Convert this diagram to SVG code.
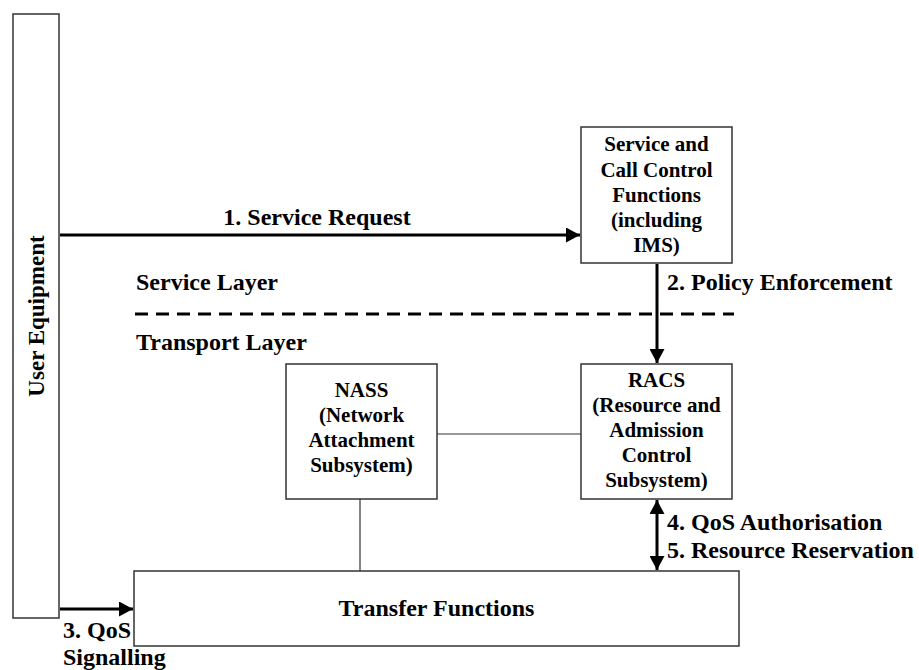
<svg xmlns="http://www.w3.org/2000/svg" width="919" height="670" viewBox="0 0 919 670">
<style>
.box{fill:#fff;stroke:#333;stroke-width:1.5}
text{font-family:'Liberation Serif','Times New Roman','DejaVu Serif',serif;font-weight:bold;fill:#000}
.bt{font-size:21px;text-anchor:middle}
.lt{font-size:24px}
.thick{stroke:#000;stroke-width:3;fill:none}
.thin{stroke:#333;stroke-width:1.2;fill:none}
</style>
<defs>
<marker id="ah" viewBox="0 0 14 15" refX="14" refY="7.5" markerWidth="14" markerHeight="15" markerUnits="userSpaceOnUse" orient="auto-start-reverse">
<path d="M0,0 L14,7.5 L0,15 Z" fill="#000"/>
</marker>
</defs>
<rect width="919" height="670" fill="#fff"/>
<g id="connectors">
<line class="thick" x1="60" y1="235" x2="580" y2="235" marker-end="url(#ah)"/>
<line class="thick" x1="657" y1="264" x2="657" y2="363" marker-end="url(#ah)"/>
<line class="thick" x1="657" y1="500" x2="657" y2="570" marker-start="url(#ah)" marker-end="url(#ah)"/>
<line class="thick" x1="60" y1="609" x2="133" y2="609" marker-end="url(#ah)"/>
<line class="thin" x1="437" y1="434" x2="581" y2="434"/>
<line class="thin" x1="360" y1="499" x2="360" y2="571"/>
<line stroke="#000" stroke-width="3" stroke-dasharray="13 8" x1="135" y1="314" x2="734" y2="314"/>
</g>
<g id="labels" font-family="Liberation Serif">
<text class="lt" x="317" y="225" text-anchor="middle">1. Service Request</text>
<text class="lt" x="667" y="290">2. Policy Enforcement</text>
<text class="lt" x="136" y="290">Service Layer</text>
<text class="lt" x="136" y="350">Transport Layer</text>
<text class="lt" x="667" y="530">4. QoS Authorisation</text>
<text class="lt" x="667" y="558">5. Resource Reservation</text>
<text class="lt" x="63" y="638">3. QoS</text>
<text class="lt" x="63" y="665">Signalling</text>
</g>
<g id="ue">
<rect class="box" x="13" y="14" width="46" height="604"/>
<text font-size="23" text-anchor="middle" transform="translate(44,316) rotate(-90)">User Equipment</text>
</g>
<g id="sccf">
<rect class="box" x="581" y="127" width="151" height="136"/>
<text class="bt" x="656.5" y="151">Service and</text>
<text class="bt" x="656.5" y="176.5">Call Control</text>
<text class="bt" x="656.5" y="202">Functions</text>
<text class="bt" x="656.5" y="227">(including</text>
<text class="bt" x="656.5" y="252">IMS)</text>
</g>
<g id="nass">
<rect class="box" x="286" y="364" width="151" height="135"/>
<text class="bt" x="361.5" y="397">NASS</text>
<text class="bt" x="361.5" y="422">(Network</text>
<text class="bt" x="361.5" y="447">Attachment</text>
<text class="bt" x="361.5" y="472">Subsystem)</text>
</g>
<g id="racs">
<rect class="box" x="581" y="364" width="151" height="135"/>
<text class="bt" x="656.5" y="387">RACS</text>
<text class="bt" x="656.5" y="412">(Resource and</text>
<text class="bt" x="656.5" y="437">Admission</text>
<text class="bt" x="656.5" y="462">Control</text>
<text class="bt" x="656.5" y="487">Subsystem)</text>
</g>
<g id="transfer">
<rect class="box" x="134" y="571" width="605" height="75"/>
<text class="lt" x="436.5" y="616" text-anchor="middle">Transfer Functions</text>
</g>
</svg>
